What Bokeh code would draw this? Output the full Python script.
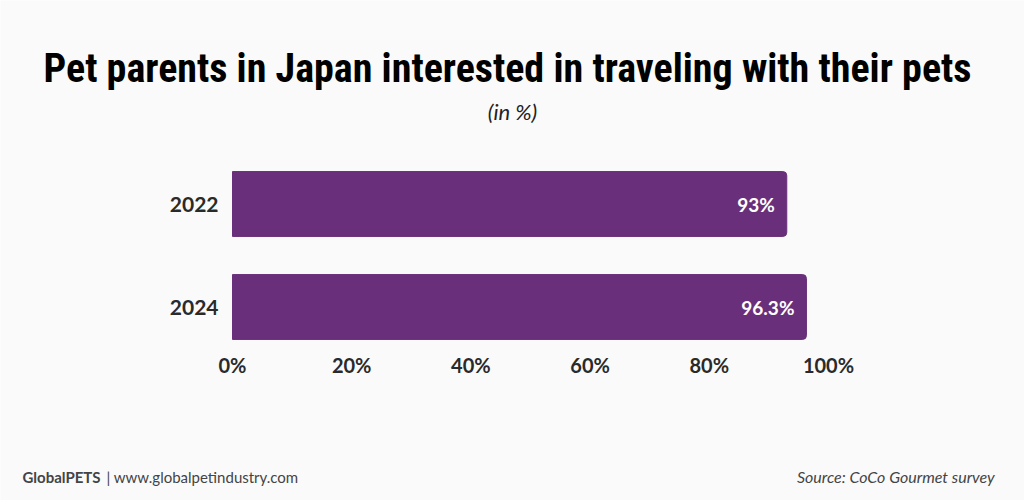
from bokeh.plotting import figure
from bokeh.models import Range1d, FixedTicker, Label, ColumnDataSource, CustomJSTickFormatter, LinearAxis
from bokeh.embed import file_html
from bokeh.resources import INLINE
from bokeh.core.properties import value

years = ["2022", "2024"]
shares = [93.0, 96.3]
share_labels = ["93%", "96.3%"]
x_ticks = [0, 20, 40, 60, 80, 100]

BG = "#fafafa"
BAR = "#6a2f7a"
W, H = 1024, 500

# pixel geometry of the plotting area inside the full canvas
X0_PX, X100_PX = 232, 828            # where 0% and 100% fall
ROW_TOP_PX, ROW_STEP_PX = 203.5, 103  # centre of first bar row, spacing between rows
AXIS_PX = 342                         # vertical position of the x axis
px_per_x = (X100_PX - X0_PX) / 100.0
n = len(years)
ypos = [n - 1 - i for i in range(n)]
y_start = ypos[-1] - (H - (ROW_TOP_PX + ROW_STEP_PX * (n - 1))) / ROW_STEP_PX
y_end = ypos[0] + ROW_TOP_PX / ROW_STEP_PX
axis_y = ypos[0] - (AXIS_PX - ROW_TOP_PX) / ROW_STEP_PX

src = ColumnDataSource(dict(y=ypos, v=shares, lab=share_labels))

p = figure(width=W, height=H, output_backend="svg", toolbar_location=None,
           x_axis_location=None, y_axis_location=None, min_border=0,
           x_range=Range1d(-X0_PX / px_per_x, (W - X0_PX) / px_per_x),
           y_range=Range1d(y_start, y_end))
p.background_fill_color = BG
p.border_fill_color = BG
p.outline_line_color = None
p.grid.visible = False

p.hbar(y="y", right="v", left=0, height=0.63, source=src, color=BAR,
       border_radius={"top_left": 0, "top_right": 4, "bottom_right": 4, "bottom_left": 0})
p.text(x="v", y="y", text="lab", source=src, text_align="right", text_baseline="middle",
       x_offset=-12, text_color="white", text_font=value("Lato"), text_font_style="bold",
       text_font_size="19px")

xaxis = LinearAxis(fixed_location=axis_y, ticker=FixedTicker(ticks=x_ticks),
                   formatter=CustomJSTickFormatter(code="return tick + '%';"))
yaxis = LinearAxis(fixed_location=0, ticker=FixedTicker(ticks=ypos),
                   major_label_overrides={ypos[i]: years[i] for i in range(n)})
for ax in (xaxis, yaxis):
    ax.axis_line_color = None
    ax.major_tick_line_color = None
    ax.minor_tick_line_color = None
    ax.major_label_text_font = "Lato"
    ax.major_label_text_font_style = "bold"
    ax.major_label_text_font_size = "20px"
    ax.major_label_text_color = "#2a2a2a"
yaxis.major_label_text_font_size = "21px"
xaxis.major_label_standoff = 4
yaxis.major_label_standoff = 8
p.add_layout(xaxis, "below")
p.add_layout(yaxis, "left")


def lab(text, cx, cy, size, font="Lato", style="normal", color="#111", align="center"):
    p.add_layout(Label(x=cx, y=H - cy, x_units="screen", y_units="screen", text=text,
                       text_font=font, text_font_style=style, text_font_size=size,
                       text_color=color, text_align=align, text_baseline="middle"))


lab("Pet parents in Japan interested in traveling with their pets", 507, 68, "40px",
    font="Liberation Sans Narrow, Roboto Condensed, Roboto", style="bold", color="#000")
lab("(in %)", 512, 111, "22px", style="italic", color="#222")
lab("GlobalPETS", 22, 476, "15px", style="bold", color="#444", align="left")
lab("| www.globalpetindustry.com", 106, 476, "15px", color="#444", align="left")
lab("Source:  CoCo Gourmet survey", 998, 476, "16px", style="italic", color="#444", align="right")

open("out.html", "w").write(file_html(p, INLINE))
